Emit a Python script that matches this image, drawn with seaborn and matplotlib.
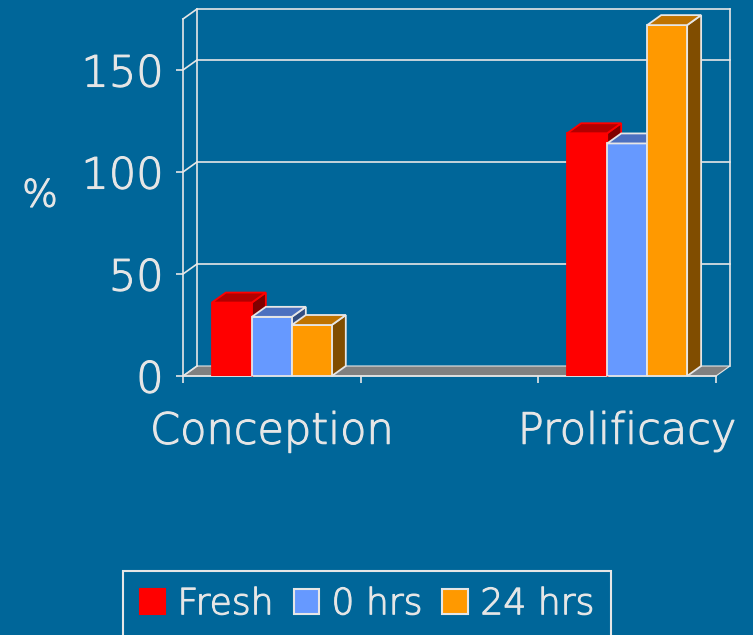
import numpy as np
import pandas as pd
import seaborn as sns
import matplotlib.pyplot as plt
import matplotlib.patheffects as pe
from matplotlib.colors import to_hex
from matplotlib.patches import Polygon, Patch

# data
categories = ['Conception', 'Prolificacy']
slots = ['Conception', ' ', 'Prolificacy']   # middle slot is empty in the original
conditions = ['Fresh', '0 hrs', '24 hrs']
fresh = [36, 119]
hrs0 = [29, 114]
hrs24 = [25, 172]
y_ticks = [0, 50, 100, 150]

front_colors = ['#ff0000', '#6699ff', '#ff9900']
top_colors = ['#b30000', '#4c70c0', '#bf7300']
side_colors = ['#800000', '#334d80', '#804d00']
edge_colors = ['#ff0000', '#e6e6e6', '#e6e6e6']

bg = '#006699'
fg = '#e6e6e6'

plt.rcParams['font.family'] = ['DejaVu Sans']
plt.rcParams['font.weight'] = 'light'

df = pd.DataFrame({
    'category': categories * 3,
    'condition': np.repeat(conditions, 2),
    'value': fresh + hrs0 + hrs24,
})

W, H = 753, 635
fig = plt.figure(figsize=(W / 100, H / 100), dpi=100, facecolor=bg)
ax_w, ax_h = 533, 357
ax = fig.add_axes([183 / W, 1 - 376 / H, ax_w / W, ax_h / H])
ax.set_facecolor('none')

sns.barplot(data=df, x='category', y='value', hue='condition', order=slots,
            hue_order=conditions, palette=front_colors, width=0.675,
            saturation=1, errorbar=None, legend=False, ax=ax)
bars = sorted(ax.patches, key=lambda p: p.get_x())
bars = [b for b in bars if to_hex(b.get_facecolor()) in front_colors]

xlo, xhi, ytop = -0.5, 2.5, 175
ax.set_xlim(xlo, xhi)
ax.set_ylim(0, ytop)

# depth of the fake 3d box, in data units
ddx = 14 / ax_w * (xhi - xlo)
ddy = 10 / ax_h * ytop

# floor and back/side walls
ax.add_patch(Polygon([(xlo, 0), (xhi, 0), (xhi + ddx, ddy), (xlo + ddx, ddy)],
                     closed=True, fc='#808080', ec=fg, lw=0.8, zorder=1, clip_on=False))
line_kw = dict(color=fg, lw=1.2, zorder=1.5, clip_on=False)
for y in y_ticks[1:] + [ytop]:
    ax.plot([xlo + ddx, xhi + ddx], [y + ddy, y + ddy], **line_kw)
for y in y_ticks + [ytop]:
    ax.plot([xlo, xlo + ddx], [y, y + ddy], **line_kw)
for x in [xlo + ddx, xhi + ddx]:
    ax.plot([x, x], [ddy, ytop + ddy], **line_kw)

# give each bar a top and a side face
for i, b in enumerate(bars):
    k = front_colors.index(to_hex(b.get_facecolor()))
    x0, x1, h = b.get_x(), b.get_x() + b.get_width(), b.get_height()
    z = 3 + i
    b.set_edgecolor(edge_colors[k])
    b.set_linewidth(1.3)
    b.set_zorder(z)
    top = Polygon([(x0, h), (x1, h), (x1 + ddx, h + ddy), (x0 + ddx, h + ddy)],
                  closed=True, fc=top_colors[k], ec=edge_colors[k], lw=1.3,
                  zorder=z, clip_on=False)
    side = Polygon([(x1, 0), (x1 + ddx, ddy), (x1 + ddx, h + ddy), (x1, h)],
                   closed=True, fc=side_colors[k], ec=edge_colors[k], lw=1.3,
                   zorder=z - 0.01, clip_on=False)
    ax.add_patch(side)
    ax.add_patch(top)

# axes styling
for s in ['top', 'right']:
    ax.spines[s].set_visible(False)
for s in ['left', 'bottom']:
    ax.spines[s].set_color(fg)
    ax.spines[s].set_linewidth(1.2)
    ax.spines[s].set_zorder(2)

ax.set_yticks(y_ticks)
ax.tick_params(axis='y', colors=fg, labelcolor=fg, labelsize=31, length=5,
               width=1.2, pad=9)
ax.set_xticks([-0.5, 0.5, 1.5, 2.5], labels=[])
ax.set_xticks([0, 2], labels=categories, minor=True)
ax.tick_params(axis='x', which='major', colors=fg, length=5, width=1.2)
ax.tick_params(axis='x', which='minor', length=0, labelsize=31,
               labelcolor=fg, pad=25)
ax.set_xlabel('')
ax.set_ylabel('%', rotation=0, fontsize=27, color=fg, va='center', ha='center',
              fontweight='light')
ax.yaxis.set_label_coords((40 - 183) / ax_w, (376 - 196) / ax_h)

handles = [Patch(fc=front_colors[k], ec=edge_colors[k], lw=1.5) for k in range(3)]
leg = fig.legend(handles, conditions, loc='upper center',
                 bbox_to_anchor=(367 / W, 1 - 571 / H), ncol=3, frameon=True,
                 fancybox=False, edgecolor=fg, facecolor=bg, framealpha=1,
                 fontsize=26, labelcolor=fg, handlelength=0.7, handleheight=0.7,
                 handletextpad=0.35, columnspacing=0.55, borderpad=0.45,
                 borderaxespad=0)
leg.get_frame().set_linewidth(1.5)

# the original lettering is a bit heavier than DejaVu ExtraLight
thicker = [pe.withStroke(linewidth=0.8, foreground=fg)]
for t in (ax.get_xticklabels(minor=True) + ax.get_yticklabels()
          + [ax.yaxis.label] + leg.get_texts()):
    t.set_path_effects(thicker)

fig.savefig('out.png', dpi=100, facecolor=bg)
